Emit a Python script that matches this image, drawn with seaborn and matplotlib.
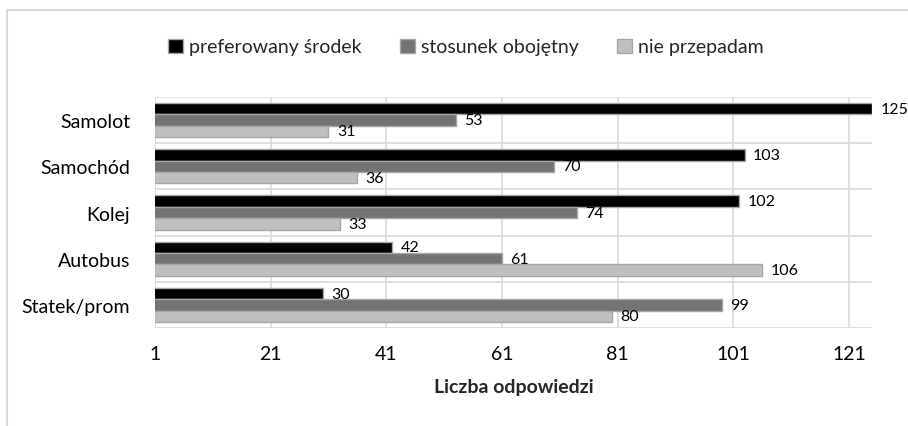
import matplotlib.pyplot as plt
import seaborn as sns
import pandas as pd
from matplotlib.patches import Rectangle

# dane z wykresu
srodki = ['Samolot', 'Samochód', 'Kolej', 'Autobus', 'Statek/prom']
preferowany = [125, 103, 102, 42, 30]
obojetny = [53, 70, 74, 61, 99]
nie_przepadam = [31, 36, 33, 106, 80]
serie = ['preferowany środek', 'stosunek obojętny', 'nie przepadam']
kolory = ['#000000', '#767171', '#bfbfbf']

rows = []
for nazwa, vals in zip(serie, [preferowany, obojetny, nie_przepadam]):
    for s, v in zip(srodki, vals):
        rows.append({'srodek': s, 'liczba': v, 'seria': nazwa})
df = pd.DataFrame(rows)

sns.set_theme(style='white')
plt.rcParams['font.family'] = ['Lato', 'DejaVu Sans']

fig = plt.figure(figsize=(9.08, 4.27), dpi=100)
ax = fig.add_axes([0.1707, 0.2295, 0.7897, 0.541])

sns.barplot(data=df, y='srodek', x='liczba', hue='seria', orient='h',
            palette=kolory, width=0.74, edgecolor='#a6a6a6', linewidth=1,
            ax=ax, zorder=3, legend=True)

for cont in ax.containers:
    ax.bar_label(cont, padding=6, fontsize=11.5, color='#000000')

ax.set_xlim(1, 125)
ax.set_xticks([1, 21, 41, 61, 81, 101, 121])
ax.set_ylim(4.5, -0.5)
ax.set_yticks(range(len(srodki)))
ax.set_yticks([i - 0.5 for i in range(len(srodki) + 1)], minor=True)
ax.grid(axis='x', color='#d9d9d9', linewidth=1.2, zorder=0)
ax.grid(axis='y', which='minor', color='#d9d9d9', linewidth=1.2, zorder=0)
ax.grid(axis='y', which='major', visible=False)
for sp in ax.spines.values():
    sp.set_visible(False)
ax.tick_params(axis='both', length=0, labelsize=14, colors='#000000')
ax.tick_params(axis='x', pad=12)
ax.tick_params(axis='y', pad=18)
ax.set_ylabel('')
ax.set_xlabel('Liczba odpowiedzi', fontsize=14, fontweight='bold', labelpad=12)

handles, labels = ax.get_legend_handles_labels()
ax.get_legend().remove()
fig.legend(handles, labels, loc='center', bbox_to_anchor=(0.513, 1 - 48 / 427),
           ncol=3, frameon=False, fontsize=14, handlelength=0.75,
           handleheight=0.75, handletextpad=0.3, columnspacing=2.0)

fig.patches.append(Rectangle((7 / 908, -0.5), 1.5, 0.5 + 1 - 11 / 427,
                             transform=fig.transFigure, fill=False,
                             edgecolor='#d9d9d9', linewidth=1.5))

fig.savefig('out.png', dpi=100)
